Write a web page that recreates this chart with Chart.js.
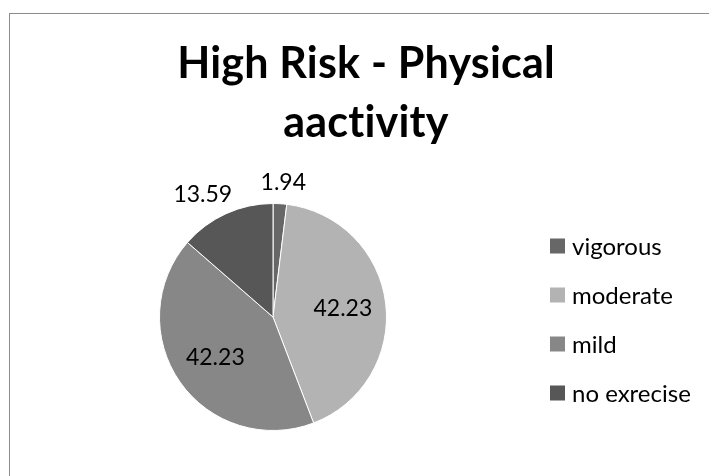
<!DOCTYPE html>
<html>
<head>
<meta charset="utf-8">
<script src="https://cdn.jsdelivr.net/npm/chart.js@4/dist/chart.umd.min.js"></script>
<style>
  html, body { margin: 0; padding: 0; background: #fff; overflow: hidden; }
  #wrap { position: relative; width: 709px; height: 476px; }
  #frame { position: absolute; left: 9px; top: 13px; width: 760px; height: 500px;
           border-left: 1px solid #8c8c8c; border-top: 1px solid #8c8c8c; box-sizing: border-box; }
  canvas { position: absolute; left: 0; top: 0; }
</style>
</head>
<body>
<div id="wrap">
  <div id="frame"></div>
  <canvas id="c" width="709" height="476"></canvas>
</div>
<script>
// Physical activity split for the high-risk group (percent)
const categories = ['vigorous', 'moderate', 'mild', 'no exrecise'];
const percentages = [1.94, 42.23, 42.23, 13.59];
const titleLines = ['High Risk - Physical', 'aactivity'];

const sliceColors = ['#676767', '#b3b3b3', '#878787', '#575757'];

// Title drawn centred over the chart frame (ligatures off via letter spacing)
const titlePlugin = {
  id: 'frameTitle',
  afterDraw(chart) {
    const ctx = chart.ctx;
    ctx.save();
    ctx.fillStyle = '#000';
    ctx.textAlign = 'center';
    ctx.textBaseline = 'alphabetic';
    ctx.font = 'bold 43px Lato, "Open Sans", sans-serif';
    if ('letterSpacing' in ctx) ctx.letterSpacing = '0.2px';
    ctx.fillText(titleLines[0], 366, 78);
    ctx.fillText(titleLines[1], 366, 137);
    ctx.restore();
  }
};

// Legend on the right: square swatch + label
const sideLegend = {
  id: 'sideLegend',
  afterDraw(chart) {
    const ctx = chart.ctx;
    const ds = chart.data.datasets[0];
    ctx.save();
    ctx.font = '24px Lato, "Open Sans", sans-serif';
    ctx.textBaseline = 'middle';
    ctx.textAlign = 'left';
    chart.data.labels.forEach((lab, i) => {
      const cy = 246 + i * 49;
      ctx.fillStyle = ds.backgroundColor[i];
      ctx.fillRect(550, cy - 7.5, 15, 15);
      ctx.fillStyle = '#000';
      ctx.fillText(lab, 572, cy + 1);
    });
    ctx.restore();
  }
};

// Value labels: small slices outside the rim, large ones inside
const valueLabels = {
  id: 'valueLabels',
  afterDatasetsDraw(chart) {
    const ctx = chart.ctx;
    const meta = chart.getDatasetMeta(0);
    const values = chart.data.datasets[0].data;
    const total = values.reduce((a, b) => a + b, 0);
    ctx.save();
    ctx.font = '23px Lato, "Open Sans", sans-serif';
    ctx.fillStyle = '#000';
    ctx.textAlign = 'center';
    ctx.textBaseline = 'middle';
    meta.data.forEach((arc, i) => {
      const p = arc.getProps(['x', 'y', 'startAngle', 'endAngle', 'outerRadius'], true);
      const mid = (p.startAngle + p.endAngle) / 2;
      const share = values[i] / total;
      let x, y;
      if (share < 0.2) {
        const r = p.outerRadius + 21;
        x = p.x + Math.cos(mid) * (r + 35);
        y = p.y + Math.sin(mid) * r;
      } else {
        const r = p.outerRadius * 0.62;
        x = p.x + Math.cos(mid) * r;
        y = p.y + Math.sin(mid) * r;
      }
      ctx.fillText(values[i].toFixed(2), x, y);
    });
    ctx.restore();
  }
};

new Chart(document.getElementById('c'), {
  type: 'pie',
  data: {
    labels: categories,
    datasets: [{
      data: percentages,
      backgroundColor: sliceColors,
      borderColor: '#ffffff',
      borderWidth: 1
    }]
  },
  options: {
    responsive: false,
    animation: false,
    layout: { padding: { top: 203, bottom: 45, left: 159, right: 322 } },
    plugins: {
      legend: { display: false },
      title: { display: false },
      tooltip: { enabled: false }
    }
  },
  plugins: [titlePlugin, sideLegend, valueLabels]
});
</script>
</body>
</html>
